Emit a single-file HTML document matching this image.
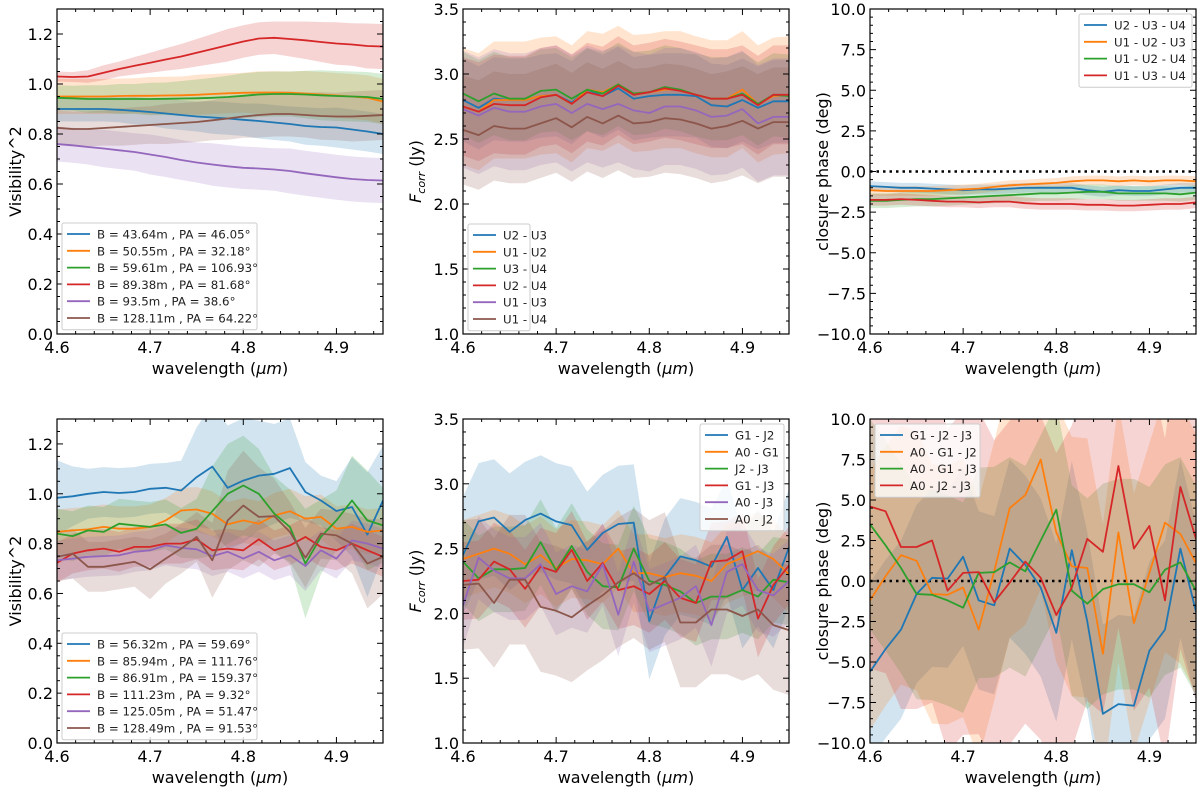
<!DOCTYPE html>
<html><head><meta charset="utf-8">
<style>
body{margin:0;background:#fff;}
svg{display:block;font-family:"DejaVu Sans","Liberation Sans",sans-serif;}
</style></head>
<body>
<svg id="fig" width="1200" height="791" viewBox="0 0 1200 791" xmlns="http://www.w3.org/2000/svg"></svg>
<script>
// ---- shared x grid (22 samples across 4.6-4.95 µm)
const wavelengths = [4.6,4.6167,4.6333,4.65,4.6667,4.6833,4.7,4.7167,4.7333,4.75,4.7667,4.7833,4.8,4.8167,4.8333,4.85,4.8667,4.8833,4.9,4.9167,4.9333,4.95];
const colors = ['#1f77b4','#ff7f0e','#2ca02c','#d62728','#9467bd','#8c564b'];

// ---- Panel A: UT visibility^2
const visUTLabels = ['B = 43.64m , PA = 46.05°','B = 50.55m , PA = 32.18°','B = 59.61m , PA = 106.93°','B = 89.38m , PA = 81.68°','B = 93.5m , PA = 38.6°','B = 128.11m , PA = 64.22°'];
const visUT1 = [0.90,0.90,0.90,0.90,0.897,0.893,0.888,0.882,0.876,0.87,0.866,0.862,0.857,0.852,0.846,0.84,0.832,0.828,0.826,0.818,0.81,0.80];
const visUT2 = [0.95,0.95,0.95,0.95,0.952,0.953,0.953,0.954,0.955,0.957,0.96,0.963,0.965,0.966,0.966,0.965,0.962,0.958,0.954,0.95,0.945,0.93];
const visUT3 = [0.945,0.943,0.94,0.94,0.94,0.94,0.94,0.941,0.942,0.943,0.945,0.948,0.953,0.958,0.96,0.96,0.958,0.955,0.952,0.95,0.948,0.94];
const visUT4 = [1.03,1.028,1.03,1.045,1.06,1.073,1.085,1.098,1.11,1.125,1.14,1.155,1.17,1.182,1.185,1.18,1.175,1.168,1.162,1.158,1.152,1.15];
const visUT5 = [0.76,0.755,0.748,0.742,0.735,0.728,0.718,0.708,0.696,0.686,0.678,0.671,0.665,0.662,0.658,0.652,0.643,0.635,0.627,0.62,0.616,0.614];
const visUT6 = [0.825,0.82,0.82,0.824,0.828,0.832,0.836,0.84,0.844,0.848,0.855,0.862,0.87,0.876,0.88,0.88,0.876,0.872,0.87,0.87,0.873,0.876];
const visUTErr1 = [0.05,0.05,0.05,0.05,0.05,0.055,0.055,0.06,0.06,0.06,0.065,0.065,0.065,0.07,0.07,0.07,0.075,0.075,0.08,0.08,0.08,0.08];
const visUTErr2 = [0.07,0.07,0.07,0.07,0.07,0.07,0.075,0.075,0.075,0.08,0.08,0.08,0.08,0.085,0.085,0.085,0.09,0.09,0.09,0.09,0.09,0.09];
const visUTErr3 = [0.05,0.05,0.055,0.055,0.06,0.06,0.065,0.065,0.07,0.075,0.08,0.085,0.09,0.09,0.09,0.09,0.095,0.1,0.1,0.1,0.1,0.1];
const visUTErr4 = [0.02,0.02,0.025,0.03,0.03,0.035,0.04,0.045,0.05,0.055,0.06,0.065,0.065,0.065,0.065,0.07,0.075,0.08,0.085,0.085,0.09,0.09];
const visUTErr5 = [0.07,0.07,0.07,0.075,0.075,0.075,0.08,0.08,0.08,0.08,0.085,0.085,0.085,0.085,0.085,0.09,0.09,0.09,0.09,0.09,0.09,0.09];
const visUTErr6 = [0.07,0.07,0.07,0.07,0.075,0.075,0.075,0.08,0.08,0.08,0.08,0.085,0.085,0.09,0.09,0.09,0.09,0.095,0.095,0.1,0.1,0.1];

// ---- Panel B: UT correlated flux
const fUTLabels = ['U2 - U3','U1 - U2','U3 - U4','U2 - U4','U1 - U3','U1 - U4'];
const fUT1 = [2.80,2.74,2.81,2.80,2.80,2.83,2.84,2.78,2.88,2.83,2.89,2.81,2.83,2.84,2.84,2.83,2.76,2.75,2.80,2.74,2.79,2.79];
const fUT2 = [2.75,2.71,2.80,2.80,2.80,2.83,2.84,2.77,2.88,2.86,2.92,2.85,2.86,2.88,2.88,2.84,2.81,2.81,2.88,2.77,2.83,2.84];
const fUT3 = [2.85,2.79,2.85,2.81,2.81,2.87,2.88,2.81,2.88,2.85,2.92,2.85,2.86,2.90,2.88,2.84,2.81,2.81,2.85,2.77,2.84,2.83];
const fUT4 = [2.75,2.71,2.77,2.76,2.76,2.82,2.84,2.77,2.86,2.83,2.91,2.84,2.86,2.89,2.87,2.84,2.81,2.81,2.84,2.76,2.84,2.84];
const fUT5 = [2.73,2.68,2.74,2.71,2.71,2.75,2.77,2.70,2.77,2.73,2.77,2.72,2.70,2.75,2.75,2.72,2.67,2.68,2.73,2.62,2.67,2.67];
const fUT6 = [2.57,2.53,2.60,2.58,2.58,2.62,2.66,2.59,2.67,2.62,2.68,2.62,2.63,2.66,2.65,2.62,2.58,2.60,2.64,2.58,2.63,2.63];
const fUTErr = [0.32,0.45,0.32,0.38,0.45,0.42];

// ---- Panel C: UT closure phase
const cpUTLabels = ['U2 - U3 - U4','U1 - U2 - U3','U1 - U2 - U4','U1 - U3 - U4'];
const cpUT1 = [-0.9,-0.95,-1.0,-1.0,-1.05,-1.1,-1.15,-1.1,-1.1,-1.05,-1.0,-1.0,-1.0,-1.0,-1.15,-1.25,-1.15,-1.2,-1.2,-1.1,-1.0,-1.0];
const cpUT2 = [-1.15,-1.2,-1.2,-1.2,-1.2,-1.15,-1.1,-1.05,-0.95,-0.85,-0.8,-0.75,-0.7,-0.6,-0.55,-0.55,-0.6,-0.55,-0.6,-0.55,-0.55,-0.6];
const cpUT3 = [-1.8,-1.8,-1.75,-1.7,-1.7,-1.65,-1.6,-1.55,-1.5,-1.45,-1.4,-1.35,-1.35,-1.3,-1.25,-1.25,-1.35,-1.35,-1.35,-1.35,-1.4,-1.3];
const cpUT4 = [-1.75,-1.75,-1.7,-1.75,-1.8,-1.85,-1.85,-1.9,-1.85,-1.85,-1.95,-2.0,-2.0,-2.0,-2.05,-2.05,-2.1,-2.1,-2.05,-2.0,-2.0,-1.9];
const cpUTErr = [0.3,0.3,0.45,0.35];

// ---- Panel D: AT visibility^2
const visATLabels = ['B = 56.32m , PA = 59.69°','B = 85.94m , PA = 111.76°','B = 86.91m , PA = 159.37°','B = 111.23m , PA = 9.32°','B = 125.05m , PA = 51.47°','B = 128.49m , PA = 91.53°'];
const visAT1 = [0.984,0.99,1.0,1.007,1.003,1.007,1.02,1.024,1.013,1.067,1.109,1.024,1.053,1.073,1.08,1.103,1.007,0.973,0.931,0.947,0.836,0.973];
const visAT2 = [0.847,0.853,0.857,0.867,0.86,0.86,0.867,0.893,0.933,0.937,0.92,0.877,0.893,0.88,0.913,0.93,0.9,0.907,0.86,0.867,0.847,0.853];
const visAT3 = [0.84,0.83,0.853,0.847,0.88,0.873,0.867,0.877,0.843,0.86,0.93,1.0,1.033,1.0,0.92,0.867,0.72,0.827,0.893,0.973,0.893,0.873];
const visAT4 = [0.723,0.76,0.773,0.78,0.767,0.787,0.787,0.8,0.8,0.817,0.773,0.78,0.773,0.817,0.773,0.793,0.827,0.787,0.773,0.8,0.773,0.747];
const visAT5 = [0.733,0.74,0.747,0.75,0.753,0.767,0.773,0.793,0.783,0.777,0.75,0.767,0.74,0.767,0.733,0.753,0.71,0.773,0.74,0.813,0.8,0.78];
const visAT6 = [0.747,0.76,0.707,0.707,0.717,0.727,0.697,0.74,0.78,0.827,0.733,0.893,0.953,0.907,0.91,0.847,0.743,0.84,0.833,0.8,0.72,0.747];
const visATErr1 = [0.15,0.12,0.1,0.1,0.1,0.1,0.1,0.1,0.12,0.2,0.25,0.25,0.25,0.22,0.2,0.2,0.12,0.1,0.12,0.2,0.25,0.22];
const visATErr2 = [0.09,0.09,0.09,0.09,0.09,0.09,0.09,0.09,0.09,0.09,0.09,0.09,0.09,0.09,0.09,0.09,0.09,0.09,0.09,0.09,0.09,0.09];
const visATErr3 = [0.1,0.1,0.1,0.1,0.1,0.1,0.1,0.1,0.1,0.12,0.18,0.2,0.2,0.18,0.15,0.15,0.22,0.15,0.12,0.18,0.2,0.15];
const visATErr4 = [0.08,0.08,0.08,0.08,0.08,0.08,0.08,0.08,0.08,0.08,0.08,0.08,0.08,0.08,0.08,0.08,0.08,0.08,0.08,0.08,0.08,0.08];
const visATErr5 = [0.08,0.08,0.08,0.08,0.08,0.08,0.08,0.08,0.08,0.08,0.08,0.08,0.08,0.08,0.08,0.08,0.1,0.08,0.08,0.08,0.08,0.08];
const visATErr6 = [0.1,0.1,0.1,0.1,0.1,0.1,0.12,0.1,0.1,0.1,0.15,0.2,0.22,0.2,0.15,0.12,0.12,0.1,0.1,0.12,0.18,0.15];

// ---- Panel E: AT correlated flux
const fATLabels = ['G1 - J2','A0 - G1','J2 - J3','G1 - J3','A0 - J3','A0 - J2'];
const fAT1 = [2.45,2.71,2.74,2.63,2.72,2.77,2.71,2.68,2.49,2.62,2.69,2.70,1.94,2.28,2.44,2.41,2.36,2.59,2.18,2.35,2.18,2.51];
const fAT2 = [2.42,2.46,2.50,2.46,2.38,2.45,2.35,2.42,2.41,2.38,2.50,2.31,2.31,2.28,2.31,2.29,2.25,2.38,2.43,2.48,2.42,2.30];
const fAT3 = [2.40,2.27,2.34,2.34,2.35,2.55,2.33,2.52,2.32,2.21,2.20,2.50,2.25,2.22,2.17,2.08,2.13,2.13,2.18,2.13,2.26,2.24];
const fAT4 = [2.25,2.26,2.40,2.34,2.19,2.36,2.32,2.49,2.25,2.39,2.18,2.21,2.15,2.25,2.12,2.08,2.40,2.41,2.48,1.96,2.22,2.37];
const fAT5 = [2.06,2.43,2.33,2.27,2.27,2.38,2.15,2.21,2.17,2.38,1.99,2.40,2.02,2.07,2.12,2.21,1.91,2.32,2.38,2.18,2.14,2.25];
const fAT6 = [2.22,2.23,2.08,2.26,2.26,2.05,2.02,1.97,2.06,2.14,2.24,2.31,2.22,2.28,1.93,1.93,2.03,2.03,1.98,2.03,1.91,1.87];
const fATErr = [0.45,0.3,0.33,0.3,0.32,0.5];

// ---- Panel F: AT closure phase
const cpATLabels = ['G1 - J2 - J3','A0 - G1 - J2','A0 - G1 - J3','A0 - J2 - J3'];
const cpAT1 = [-5.6,-4.2,-3.0,-0.8,0.2,0.15,1.5,-1.2,-1.5,2.0,1.0,-0.4,-3.2,1.9,-2.5,-8.2,-7.6,-7.7,-4.3,-3.0,2.0,-1.9];
const cpAT2 = [-1.2,0.3,1.6,1.25,-0.8,-0.85,-0.4,-3.0,0.6,4.5,5.3,7.5,3.0,0.9,0.8,-4.5,3.0,-2.6,0.5,3.6,2.9,1.1];
const cpAT3 = [3.5,2.2,0.8,-0.8,-0.85,-1.2,-1.65,0.5,0.55,1.15,0.6,2.5,4.4,-0.6,-1.4,-0.5,-0.2,-0.2,-0.7,0.7,1.15,-0.6];
const cpAT4 = [4.6,4.3,2.1,2.1,2.5,-0.6,0.5,0.55,-1.3,-0.1,1.2,0.2,-2.1,-0.4,2.6,1.8,7.1,2.0,3.4,-1.2,5.8,2.6];
const cpATErr = [5.5,8,6.5,10];

const NS='http://www.w3.org/2000/svg';
const svg=document.getElementById('fig');
function mk(tag,attrs,parent){const e=document.createElementNS(NS,tag);for(const k in attrs)e.setAttribute(k,attrs[k]);(parent||svg).appendChild(e);return e;}

let clipId=0;
function panel(p){
  const g=mk('g',{});
  
  
  const X=v=>p.x0+(v-4.6)/(0.35)*(p.x1-p.x0);
  const Y=v=>p.y1-(v-p.ymin)/(p.ymax-p.ymin)*(p.y1-p.y0);
  const cid='c'+(clipId++);
  const cp=mk('clipPath',{id:cid},g);
  mk('rect',{x:p.x0,y:p.y0,width:p.x1-p.x0,height:p.y1-p.y0},cp);
  const plot=mk('g',{'clip-path':'url(#'+cid+')'},g);
  p.series.forEach((s,i)=>{
    const err=s.err;
    const e=k=>Array.isArray(err)?err[k]:err;
    let pts=wavelengths.map((w,k)=>X(w).toFixed(1)+','+Y(s.v[k]+e(k)).toFixed(1));
    for(let k=wavelengths.length-1;k>=0;k--)pts.push(X(wavelengths[k]).toFixed(1)+','+Y(s.v[k]-e(k)).toFixed(1));
    const b=mk('polygon',{points:pts.join(' '),fill:colors[i],'fill-opacity':0.2,stroke:'none'},plot);
    
    
  });
  if(p.zero){
    const z=mk('line',{x1:p.x0,x2:p.x1,y1:Y(0),y2:Y(0),stroke:'#000','stroke-width':2.5,'stroke-dasharray':'2.5,4'},plot);
    
    
  }
  p.series.forEach((s,i)=>{
    const l=mk('polyline',{points:wavelengths.map((w,k)=>X(w).toFixed(1)+','+Y(s.v[k]).toFixed(1)).join(' '),fill:'none',stroke:colors[i],'stroke-width':1.8,'stroke-linejoin':'round'},plot);
    
    
  });
  mk('rect',{x:p.x0,y:p.y0,width:p.x1-p.x0,height:p.y1-p.y0,fill:'none',stroke:'#000','stroke-width':1.2},g);
  for(let t=0;t<=17;t++){const v=4.6+t*0.02;const x=X(v);const major=(t%5===0);const L=major?6:3;
    mk('line',{x1:x,x2:x,y1:p.y1,y2:p.y1-L,stroke:'#000','stroke-width':1},g);
    mk('line',{x1:x,x2:x,y1:p.y0,y2:p.y0+L,stroke:'#000','stroke-width':1},g);
    if(major){const tx=mk('text',{x:x,y:p.y1+19,'font-size':16,'text-anchor':'middle',fill:'#000'},g);tx.textContent=v.toFixed(1);
      }
  }
  const nMin=Math.round((p.ymax-p.ymin)/p.minor);
  for(let t=0;t<=nMin;t++){const v=p.ymin+t*p.minor;const y=Y(v);
    const rel=(v-p.ymin)/p.major;const major=Math.abs(rel-Math.round(rel))<1e-6;const L=major?6:3;
    mk('line',{x1:p.x0,x2:p.x0+L,y1:y,y2:y,stroke:'#000','stroke-width':1},g);
    mk('line',{x1:p.x1,x2:p.x1-L,y1:y,y2:y,stroke:'#000','stroke-width':1},g);
    if(major){const tx=mk('text',{x:p.x0-4,y:y+6,'font-size':16,'text-anchor':'end',fill:'#000'},g);
      tx.textContent=(Math.abs(v)<1e-9?0:v).toFixed(1).replace('-','−');
      }
  }
  const xl=mk('text',{x:(p.x0+p.x1)/2,y:p.y1+40,'font-size':16,'text-anchor':'middle',fill:'#000'},g);
  xl.innerHTML='wavelength (<tspan font-style="italic">μm</tspan>)';
  
  const yc=(p.y0+p.y1)/2;
  const yl=mk('text',{x:p.ylx,y:yc,'font-size':16,'text-anchor':'middle',fill:'#000',transform:'rotate(-90 '+p.ylx+' '+yc+')'},g);
  yl.innerHTML=p.ylabel;
  
  const lg=mk('g',{},g);
  
  
  mk('rect',{x:p.lx,y:p.ly,width:p.lw,height:p.labels.length*16.8+6,fill:'#fff','fill-opacity':0.8,stroke:'#ccc',rx:2},lg);
  p.labels.forEach((lab,i)=>{const yy=p.ly+11+i*16.8;
    mk('line',{x1:p.lx+5,x2:p.lx+28,y1:yy,y2:yy,stroke:colors[i],'stroke-width':1.8},lg);
    const t=mk('text',{x:p.lx+35,y:yy+4.5,'font-size':11.8,fill:'#222'},lg);t.textContent=lab;
    
  });
}

const T0=9,T1=334,B0=419,B1=743;
const C1=[57,383],C2=[463,789],C3=[870,1196];
panel({name:'ut-visibility-panel',x0:C1[0],x1:C1[1],y0:T0,y1:T1,ymin:0,ymax:1.3,major:0.2,minor:0.05,ylx:21,ylabel:'Visibility^2',
  series:[{v:visUT1,err:visUTErr1},{v:visUT2,err:visUTErr2},{v:visUT3,err:visUTErr3},{v:visUT4,err:visUTErr4},{v:visUT5,err:visUTErr5},{v:visUT6,err:visUTErr6}],
  labels:visUTLabels,lx:62,ly:223,lw:195});
panel({name:'ut-flux-panel',x0:C2[0],x1:C2[1],y0:T0,y1:T1,ymin:1.0,ymax:3.5,major:0.5,minor:0.1,ylx:421,ylabel:'<tspan font-style="italic">F</tspan><tspan font-style="italic" font-size="11" dy="4">corr</tspan><tspan dy="-4"> (Jy)</tspan>',
  series:fUTLabels.map((l,i)=>({v:[fUT1,fUT2,fUT3,fUT4,fUT5,fUT6][i],err:fUTErr[i]})),
  labels:fUTLabels,lx:468,ly:224,lw:62});
panel({name:'ut-closure-phase-panel',x0:C3[0],x1:C3[1],y0:T0,y1:T1,ymin:-10,ymax:10,major:2.5,minor:0.5,ylx:828,ylabel:'closure phase (deg)',zero:true,
  series:cpUTLabels.map((l,i)=>({v:[cpUT1,cpUT2,cpUT3,cpUT4][i],err:cpUTErr[i]})),
  labels:cpUTLabels,lx:1079,ly:14,lw:113});
panel({name:'at-visibility-panel',x0:C1[0],x1:C1[1],y0:B0,y1:B1,ymin:0,ymax:1.3,major:0.2,minor:0.05,ylx:21,ylabel:'Visibility^2',
  series:[{v:visAT1,err:visATErr1},{v:visAT2,err:visATErr2},{v:visAT3,err:visATErr3},{v:visAT4,err:visATErr4},{v:visAT5,err:visATErr5},{v:visAT6,err:visATErr6}],
  labels:visATLabels,lx:62,ly:633,lw:195});
panel({name:'at-flux-panel',x0:C2[0],x1:C2[1],y0:B0,y1:B1,ymin:1.0,ymax:3.5,major:0.5,minor:0.1,ylx:421,ylabel:'<tspan font-style="italic">F</tspan><tspan font-style="italic" font-size="11" dy="4">corr</tspan><tspan dy="-4"> (Jy)</tspan>',
  series:fATLabels.map((l,i)=>({v:[fAT1,fAT2,fAT3,fAT4,fAT5,fAT6][i],err:fATErr[i]})),
  labels:fATLabels,lx:700,ly:424,lw:84});
panel({name:'at-closure-phase-panel',x0:C3[0],x1:C3[1],y0:B0,y1:B1,ymin:-10,ymax:10,major:2.5,minor:0.5,ylx:828,ylabel:'closure phase (deg)',zero:true,
  series:cpATLabels.map((l,i)=>({v:[cpAT1,cpAT2,cpAT3,cpAT4][i],err:cpATErr[i]})),
  labels:cpATLabels,lx:875,ly:424,lw:105});
</script>
</body></html>
